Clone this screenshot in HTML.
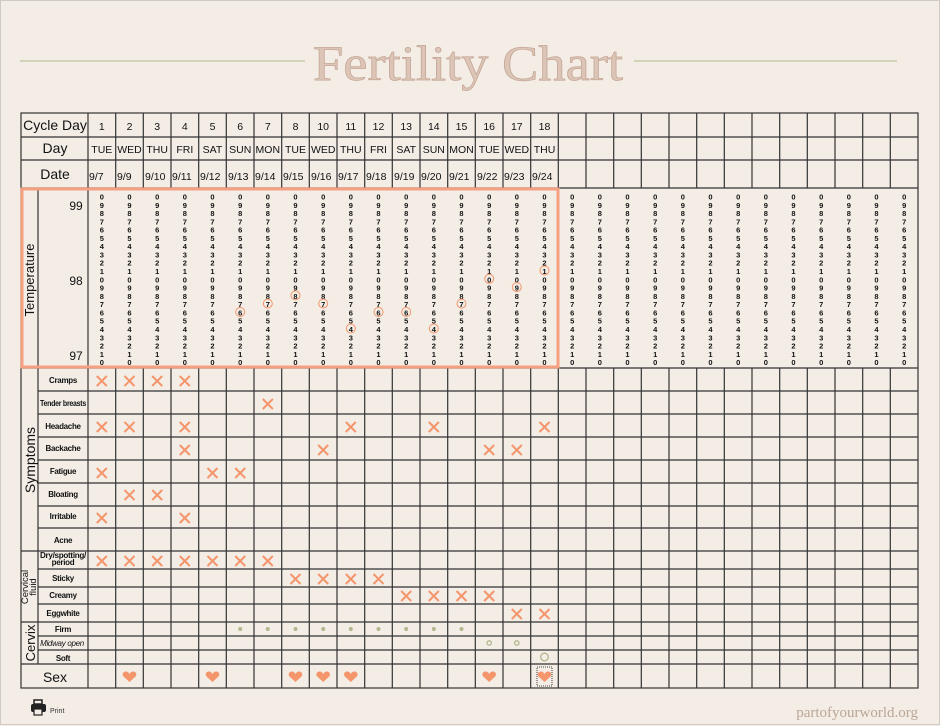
<!DOCTYPE html>
<html><head><meta charset="utf-8"><style>
html,body{margin:0;padding:0;background:#f3ede6;}
svg{display:block;font-family:"Liberation Sans",sans-serif;}
</style></head><body>
<svg width="940" height="726" viewBox="0 0 940 726" xmlns="http://www.w3.org/2000/svg">
<defs>
<symbol id="x" viewBox="-6 -6 12 12" overflow="visible"><path d="M-5,-5L5,5M5,-5L-5,5" stroke="#f4956b" stroke-width="2" fill="none"/></symbol>
<symbol id="h" viewBox="-7 -6 14 12" overflow="visible"><path d="M0,5 L-6,-0.5 C-8,-3 -6,-6 -3,-5.5 C-1.5,-5.2 -0.5,-4 0,-3 C0.5,-4 1.5,-5.2 3,-5.5 C6,-6 8,-3 6,-0.5 Z" fill="#f4956b"/></symbol>
</defs>
<rect x="0.5" y="0.5" width="939" height="724" fill="#f3ede6" stroke="#cfcac4"/>
<line x1="20" y1="61" x2="305" y2="61" stroke="#c9c9a9" stroke-width="1.5"/>
<line x1="634" y1="61" x2="897" y2="61" stroke="#c9c9a9" stroke-width="1.5"/>
<text x="313" y="80" font-family="Liberation Serif,serif" font-size="50" fill="#dcc4b6" stroke="#c4a594" stroke-width="0.7" textLength="310" lengthAdjust="spacingAndGlyphs">Fertility Chart</text>

<g stroke="#333" stroke-width="1.2" fill="none">
<rect x="21" y="113" width="897" height="575"/>
<path d="M21 137H918M21 160H918M21 188H918M21 368H918M21 551H918M21 622H918M21 664H918"/>
<path d="M38 391H918M38 414H918M38 437H918M38 460H918M38 483H918M38 506H918M38 528H918M38 569H918M38 587H918M38 604H918M38 636H918M38 650H918"/>
<path d="M38 188V664M88 113V688"/>
<path d="M115.7 113V188M143.3 113V188M171 113V188M198.7 113V188M226.3 113V188M254 113V188M281.7 113V188M309.3 113V188M337 113V188M364.7 113V188M392.3 113V188M420 113V188M447.7 113V188M475.3 113V188M503 113V188M530.7 113V188M558.3 113V188M586 113V188M613.7 113V188M641.3 113V188M669 113V188M696.7 113V188M724.3 113V188M752 113V188M779.7 113V188M807.3 113V188M835 113V188M862.7 113V188M890.3 113V188"/>
<path d="M115.7 368V688M143.3 368V688M171 368V688M198.7 368V688M226.3 368V688M254 368V688M281.7 368V688M309.3 368V688M337 368V688M364.7 368V688M392.3 368V688M420 368V688M447.7 368V688M475.3 368V688M503 368V688M530.7 368V688M558.3 368V688M586 368V688M613.7 368V688M641.3 368V688M669 368V688M696.7 368V688M724.3 368V688M752 368V688M779.7 368V688M807.3 368V688M835 368V688M862.7 368V688M890.3 368V688"/>
</g>
<rect x="22" y="189" width="536" height="178" fill="none" stroke="#f4a080" stroke-width="3"/>

<g font-size="14" fill="#111" text-anchor="middle">
<text x="55" y="130">Cycle Day</text>
<text x="55" y="153">Day</text>
<text x="55" y="179">Date</text>
<text x="55" y="682">Sex</text>
</g>
<g font-size="10.5" fill="#111" text-anchor="middle">
<text x="101.8" y="130">1</text><text x="129.5" y="130">2</text><text x="157.2" y="130">3</text><text x="184.8" y="130">4</text><text x="212.5" y="130">5</text><text x="240.2" y="130">6</text><text x="267.8" y="130">7</text><text x="295.5" y="130">8</text><text x="323.2" y="130">10</text><text x="350.8" y="130">11</text><text x="378.5" y="130">12</text><text x="406.2" y="130">13</text><text x="433.8" y="130">14</text><text x="461.5" y="130">15</text><text x="489.2" y="130">16</text><text x="516.8" y="130">17</text><text x="544.5" y="130">18</text>
<text x="101.8" y="153">TUE</text><text x="129.5" y="153">WED</text><text x="157.2" y="153">THU</text><text x="184.8" y="153">FRI</text><text x="212.5" y="153">SAT</text><text x="240.2" y="153">SUN</text><text x="267.8" y="153">MON</text><text x="295.5" y="153">TUE</text><text x="323.2" y="153">WED</text><text x="350.8" y="153">THU</text><text x="378.5" y="153">FRI</text><text x="406.2" y="153">SAT</text><text x="433.8" y="153">SUN</text><text x="461.5" y="153">MON</text><text x="489.2" y="153">TUE</text><text x="516.8" y="153">WED</text><text x="544.5" y="153">THU</text>
</g>
<g font-size="10.5" fill="#111">
<text x="89" y="180">9/7</text><text x="117" y="180">9/9</text><text x="145" y="180">9/10</text><text x="172" y="180">9/11</text><text x="200" y="180">9/12</text><text x="228" y="180">9/13</text><text x="255" y="180">9/14</text><text x="283" y="180">9/15</text><text x="311" y="180">9/16</text><text x="338" y="180">9/17</text><text x="366" y="180">9/18</text><text x="394" y="180">9/19</text><text x="421" y="180">9/20</text><text x="449" y="180">9/21</text><text x="477" y="180">9/22</text><text x="504" y="180">9/23</text><text x="532" y="180">9/24</text>
</g>

<g font-size="12" fill="#111" text-anchor="middle">
<text x="76" y="210">99</text><text x="76" y="285">98</text><text x="76" y="360">97</text>
</g>
<text transform="translate(34,280) rotate(-90)" font-size="13" text-anchor="middle" fill="#111">Temperature</text>
<text transform="translate(35,460) rotate(-90)" font-size="14" text-anchor="middle" fill="#111">Symptoms</text>
<text transform="translate(28,587) rotate(-90)" font-size="9.5" text-anchor="middle" fill="#111">Cervical</text>
<text transform="translate(36,587) rotate(-90)" font-size="9.5" text-anchor="middle" fill="#111">fluid</text>
<text transform="translate(35,643) rotate(-90)" font-size="13" text-anchor="middle" fill="#111">Cervix</text>

<g font-size="8" font-weight="bold" fill="#111" text-anchor="middle" letter-spacing="-0.3">
<text x="63" y="383">Cramps</text>
<text x="63" y="406" textLength="46" lengthAdjust="spacingAndGlyphs">Tender breasts</text>
<text x="63" y="429">Headache</text>
<text x="63" y="451">Backache</text>
<text x="63" y="474">Fatigue</text>
<text x="63" y="497">Bloating</text>
<text x="63" y="519">Irritable</text>
<text x="63" y="543">Acne</text>
<text x="63" y="558" textLength="46" lengthAdjust="spacingAndGlyphs">Dry/spotting/</text>
<text x="63" y="565">period</text>
<text x="63" y="581">Sticky</text>
<text x="63" y="598">Creamy</text>
<text x="63" y="616">Eggwhite</text>
<text x="63" y="632">Firm</text>
<text x="62" y="646" font-weight="normal" font-style="italic">Midway open</text>
<text x="63" y="661">Soft</text>
</g>

<g font-size="7.5" font-weight="bold" fill="#111" text-anchor="middle">
<text x="101.8 129.5 157.2 184.8 212.5 240.2 267.8 295.5 323.2 350.8 378.5 406.2 433.8 461.5 489.2 516.8 544.5 572.2 599.8 627.5 655.2 682.8 710.5 738.2 765.8 793.5 821.2 848.8 876.5 904.2" y="199.5">000000000000000000000000000000</text>
<text x="101.8 129.5 157.2 184.8 212.5 240.2 267.8 295.5 323.2 350.8 378.5 406.2 433.8 461.5 489.2 516.8 544.5 572.2 599.8 627.5 655.2 682.8 710.5 738.2 765.8 793.5 821.2 848.8 876.5 904.2" y="207.8">999999999999999999999999999999</text>
<text x="101.8 129.5 157.2 184.8 212.5 240.2 267.8 295.5 323.2 350.8 378.5 406.2 433.8 461.5 489.2 516.8 544.5 572.2 599.8 627.5 655.2 682.8 710.5 738.2 765.8 793.5 821.2 848.8 876.5 904.2" y="216.1">888888888888888888888888888888</text>
<text x="101.8 129.5 157.2 184.8 212.5 240.2 267.8 295.5 323.2 350.8 378.5 406.2 433.8 461.5 489.2 516.8 544.5 572.2 599.8 627.5 655.2 682.8 710.5 738.2 765.8 793.5 821.2 848.8 876.5 904.2" y="224.3">777777777777777777777777777777</text>
<text x="101.8 129.5 157.2 184.8 212.5 240.2 267.8 295.5 323.2 350.8 378.5 406.2 433.8 461.5 489.2 516.8 544.5 572.2 599.8 627.5 655.2 682.8 710.5 738.2 765.8 793.5 821.2 848.8 876.5 904.2" y="232.6">666666666666666666666666666666</text>
<text x="101.8 129.5 157.2 184.8 212.5 240.2 267.8 295.5 323.2 350.8 378.5 406.2 433.8 461.5 489.2 516.8 544.5 572.2 599.8 627.5 655.2 682.8 710.5 738.2 765.8 793.5 821.2 848.8 876.5 904.2" y="240.9">555555555555555555555555555555</text>
<text x="101.8 129.5 157.2 184.8 212.5 240.2 267.8 295.5 323.2 350.8 378.5 406.2 433.8 461.5 489.2 516.8 544.5 572.2 599.8 627.5 655.2 682.8 710.5 738.2 765.8 793.5 821.2 848.8 876.5 904.2" y="249.2">444444444444444444444444444444</text>
<text x="101.8 129.5 157.2 184.8 212.5 240.2 267.8 295.5 323.2 350.8 378.5 406.2 433.8 461.5 489.2 516.8 544.5 572.2 599.8 627.5 655.2 682.8 710.5 738.2 765.8 793.5 821.2 848.8 876.5 904.2" y="257.5">333333333333333333333333333333</text>
<text x="101.8 129.5 157.2 184.8 212.5 240.2 267.8 295.5 323.2 350.8 378.5 406.2 433.8 461.5 489.2 516.8 544.5 572.2 599.8 627.5 655.2 682.8 710.5 738.2 765.8 793.5 821.2 848.8 876.5 904.2" y="265.7">222222222222222222222222222222</text>
<text x="101.8 129.5 157.2 184.8 212.5 240.2 267.8 295.5 323.2 350.8 378.5 406.2 433.8 461.5 489.2 516.8 544.5 572.2 599.8 627.5 655.2 682.8 710.5 738.2 765.8 793.5 821.2 848.8 876.5 904.2" y="274.0">111111111111111111111111111111</text>
<text x="101.8 129.5 157.2 184.8 212.5 240.2 267.8 295.5 323.2 350.8 378.5 406.2 433.8 461.5 489.2 516.8 544.5 572.2 599.8 627.5 655.2 682.8 710.5 738.2 765.8 793.5 821.2 848.8 876.5 904.2" y="282.3">000000000000000000000000000000</text>
<text x="101.8 129.5 157.2 184.8 212.5 240.2 267.8 295.5 323.2 350.8 378.5 406.2 433.8 461.5 489.2 516.8 544.5 572.2 599.8 627.5 655.2 682.8 710.5 738.2 765.8 793.5 821.2 848.8 876.5 904.2" y="290.6">999999999999999999999999999999</text>
<text x="101.8 129.5 157.2 184.8 212.5 240.2 267.8 295.5 323.2 350.8 378.5 406.2 433.8 461.5 489.2 516.8 544.5 572.2 599.8 627.5 655.2 682.8 710.5 738.2 765.8 793.5 821.2 848.8 876.5 904.2" y="298.9">888888888888888888888888888888</text>
<text x="101.8 129.5 157.2 184.8 212.5 240.2 267.8 295.5 323.2 350.8 378.5 406.2 433.8 461.5 489.2 516.8 544.5 572.2 599.8 627.5 655.2 682.8 710.5 738.2 765.8 793.5 821.2 848.8 876.5 904.2" y="307.1">777777777777777777777777777777</text>
<text x="101.8 129.5 157.2 184.8 212.5 240.2 267.8 295.5 323.2 350.8 378.5 406.2 433.8 461.5 489.2 516.8 544.5 572.2 599.8 627.5 655.2 682.8 710.5 738.2 765.8 793.5 821.2 848.8 876.5 904.2" y="315.4">666666666666666666666666666666</text>
<text x="101.8 129.5 157.2 184.8 212.5 240.2 267.8 295.5 323.2 350.8 378.5 406.2 433.8 461.5 489.2 516.8 544.5 572.2 599.8 627.5 655.2 682.8 710.5 738.2 765.8 793.5 821.2 848.8 876.5 904.2" y="323.7">555555555555555555555555555555</text>
<text x="101.8 129.5 157.2 184.8 212.5 240.2 267.8 295.5 323.2 350.8 378.5 406.2 433.8 461.5 489.2 516.8 544.5 572.2 599.8 627.5 655.2 682.8 710.5 738.2 765.8 793.5 821.2 848.8 876.5 904.2" y="332.0">444444444444444444444444444444</text>
<text x="101.8 129.5 157.2 184.8 212.5 240.2 267.8 295.5 323.2 350.8 378.5 406.2 433.8 461.5 489.2 516.8 544.5 572.2 599.8 627.5 655.2 682.8 710.5 738.2 765.8 793.5 821.2 848.8 876.5 904.2" y="340.3">333333333333333333333333333333</text>
<text x="101.8 129.5 157.2 184.8 212.5 240.2 267.8 295.5 323.2 350.8 378.5 406.2 433.8 461.5 489.2 516.8 544.5 572.2 599.8 627.5 655.2 682.8 710.5 738.2 765.8 793.5 821.2 848.8 876.5 904.2" y="348.5">222222222222222222222222222222</text>
<text x="101.8 129.5 157.2 184.8 212.5 240.2 267.8 295.5 323.2 350.8 378.5 406.2 433.8 461.5 489.2 516.8 544.5 572.2 599.8 627.5 655.2 682.8 710.5 738.2 765.8 793.5 821.2 848.8 876.5 904.2" y="356.8">111111111111111111111111111111</text>
<text x="101.8 129.5 157.2 184.8 212.5 240.2 267.8 295.5 323.2 350.8 378.5 406.2 433.8 461.5 489.2 516.8 544.5 572.2 599.8 627.5 655.2 682.8 710.5 738.2 765.8 793.5 821.2 848.8 876.5 904.2" y="365.1">000000000000000000000000000000</text>
</g>

<g fill="none" stroke="#f4956b" stroke-width="1">
<circle cx="240.2" cy="312" r="4.5"/><circle cx="267.8" cy="303.6" r="4.5"/><circle cx="295.5" cy="295.4" r="4.5"/><circle cx="323.2" cy="303.6" r="4.5"/><circle cx="350.8" cy="328.5" r="4.5"/><circle cx="378.5" cy="312" r="4.5"/><circle cx="406.2" cy="312" r="4.5"/><circle cx="433.8" cy="328.5" r="4.5"/><circle cx="461.5" cy="303.6" r="4.5"/><circle cx="489.2" cy="278.8" r="4.5"/><circle cx="516.8" cy="287.1" r="4.5"/><circle cx="544.5" cy="270.5" r="4.5"/>
</g>

<g>
<use href="#x" x="95.8" y="375" width="12" height="12"/><use href="#x" x="123.5" y="375" width="12" height="12"/><use href="#x" x="151.2" y="375" width="12" height="12"/><use href="#x" x="178.8" y="375" width="12" height="12"/>
<use href="#x" x="261.8" y="398" width="12" height="12"/>
<use href="#x" x="95.8" y="421" width="12" height="12"/><use href="#x" x="123.5" y="421" width="12" height="12"/><use href="#x" x="178.8" y="421" width="12" height="12"/><use href="#x" x="344.8" y="421" width="12" height="12"/><use href="#x" x="427.8" y="421" width="12" height="12"/><use href="#x" x="538.5" y="421" width="12" height="12"/>
<use href="#x" x="178.8" y="444" width="12" height="12"/><use href="#x" x="317.2" y="444" width="12" height="12"/><use href="#x" x="483.2" y="444" width="12" height="12"/><use href="#x" x="510.8" y="444" width="12" height="12"/>
<use href="#x" x="95.8" y="467" width="12" height="12"/><use href="#x" x="206.5" y="467" width="12" height="12"/><use href="#x" x="234.2" y="467" width="12" height="12"/>
<use href="#x" x="123.5" y="489" width="12" height="12"/><use href="#x" x="151.2" y="489" width="12" height="12"/>
<use href="#x" x="95.8" y="512" width="12" height="12"/><use href="#x" x="178.8" y="512" width="12" height="12"/>
<use href="#x" x="95.8" y="555" width="12" height="12"/><use href="#x" x="123.5" y="555" width="12" height="12"/><use href="#x" x="151.2" y="555" width="12" height="12"/><use href="#x" x="178.8" y="555" width="12" height="12"/><use href="#x" x="206.5" y="555" width="12" height="12"/><use href="#x" x="234.2" y="555" width="12" height="12"/><use href="#x" x="261.8" y="555" width="12" height="12"/>
<use href="#x" x="289.5" y="573" width="12" height="12"/><use href="#x" x="317.2" y="573" width="12" height="12"/><use href="#x" x="344.8" y="573" width="12" height="12"/><use href="#x" x="372.5" y="573" width="12" height="12"/>
<use href="#x" x="400.2" y="590" width="12" height="12"/><use href="#x" x="427.8" y="590" width="12" height="12"/><use href="#x" x="455.5" y="590" width="12" height="12"/><use href="#x" x="483.2" y="590" width="12" height="12"/>
<use href="#x" x="510.8" y="608" width="12" height="12"/><use href="#x" x="538.5" y="608" width="12" height="12"/>
</g>
<g fill="#b5b58e">
<circle cx="240.2" cy="629" r="2"/><circle cx="267.8" cy="629" r="2"/><circle cx="295.5" cy="629" r="2"/><circle cx="323.2" cy="629" r="2"/><circle cx="350.8" cy="629" r="2"/><circle cx="378.5" cy="629" r="2"/><circle cx="406.2" cy="629" r="2"/><circle cx="433.8" cy="629" r="2"/><circle cx="461.5" cy="629" r="2"/>
</g>
<g fill="none" stroke="#b5b58e">
<circle cx="489.2" cy="643" r="2.2" stroke-width="1.3"/><circle cx="516.8" cy="643" r="2.2" stroke-width="1.3"/><circle cx="544.5" cy="657" r="3.8" stroke-width="1.3"/>
</g>
<g>
<use href="#h" x="122.5" y="671" width="14" height="12"/><use href="#h" x="205.5" y="671" width="14" height="12"/><use href="#h" x="288.5" y="671" width="14" height="12"/><use href="#h" x="316.2" y="671" width="14" height="12"/><use href="#h" x="343.8" y="671" width="14" height="12"/><use href="#h" x="482.2" y="671" width="14" height="12"/><use href="#h" x="537.5" y="671" width="14" height="12"/>
</g>
<rect x="537" y="667" width="15" height="19" fill="none" stroke="#111" stroke-width="0.8" stroke-dasharray="1,1"/>

<g fill="#222">
<rect x="34" y="700" width="8" height="4" fill="none" stroke="#222" stroke-width="1.5"/>
<rect x="31" y="704" width="15" height="8" rx="2"/>
<rect x="34" y="709" width="8" height="6" fill="#f3ede6" stroke="#222" stroke-width="1.2"/>
</g>
<text x="50" y="713" font-size="7" fill="#333">Print</text>
<text x="918" y="717" font-family="Liberation Serif,serif" font-size="15" fill="#bba696" text-anchor="end">partofyourworld.org</text>
</svg>
</body></html>
